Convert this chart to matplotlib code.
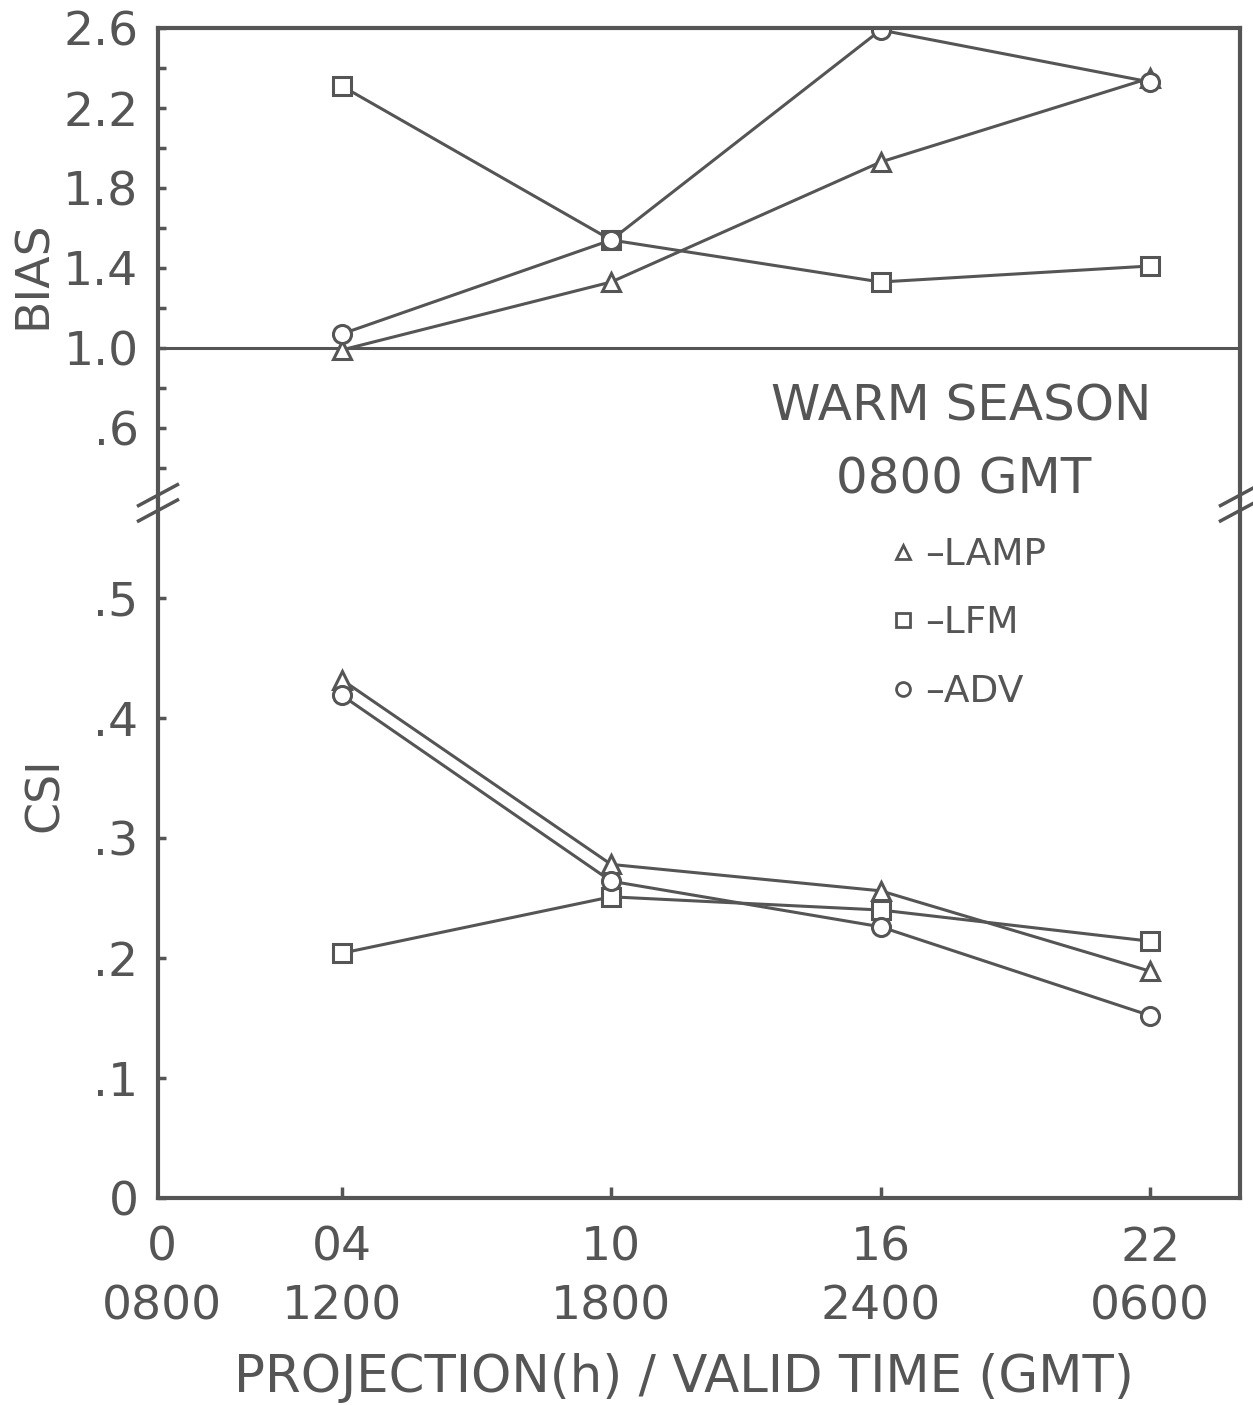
import matplotlib
matplotlib.use("Agg")
import matplotlib.pyplot as plt
from matplotlib.lines import Line2D

# projection hours and their valid times
hours = [4, 10, 16, 22]
xtick_pos = [0, 4, 10, 16, 22]
xtick_labels = ["0\n0800", "04\n1200", "10\n1800", "16\n2400", "22\n0600"]

# bias scores
bias_lamp = [0.99, 1.33, 1.93, 2.35]
bias_lfm = [2.31, 1.54, 1.33, 1.41]
bias_adv = [1.07, 1.54, 2.59, 2.33]

# critical success index
csi_lamp = [0.432, 0.278, 0.256, 0.189]
csi_lfm = [0.204, 0.251, 0.240, 0.214]
csi_adv = [0.419, 0.264, 0.226, 0.152]

grey = "#555555"
plt.rcParams["font.family"] = ["DejaVu Sans"]
plt.rcParams["text.color"] = grey

fig = plt.figure(figsize=(12.53, 14.05), dpi=100)
fig.patch.set_facecolor("white")

left, width = 0.1261, 0.8635
ax_b = fig.add_axes([left, 0.14733, width, 0.49680])
ax_t = fig.add_axes([left, 0.64413, width, 0.33594])

styles = [("^", "LAMP"), ("s", "LFM"), ("o", "ADV")]

for ax in (ax_t, ax_b):
    ax.set_xlim(-0.09, 24.0)
    ax.set_facecolor("none")
    for s in ax.spines.values():
        s.set_linewidth(3)
        s.set_color(grey)
    ax.tick_params(direction="in", colors=grey, width=2.5, length=6,
                   labelsize=34, pad=14)
    ax.tick_params(which="minor", direction="in", colors=grey, width=2.5, length=6)

ax_t.spines["bottom"].set_visible(False)
ax_b.spines["top"].set_visible(False)

# top panel: bias
ax_t.set_ylim(0.24, 2.6)
ax_t.axhline(1.0, color=grey, lw=2.2)
for (mk, name), vals in zip(styles, [bias_lamp, bias_lfm, bias_adv]):
    ax_t.plot(hours, vals, color=grey, lw=2.2, marker=mk, ms=13,
              mfc="white", mec=grey, mew=2.2)
ax_t.set_yticks([0.6, 1.0, 1.4, 1.8, 2.2, 2.6])
ax_t.set_yticklabels([".6", "1.0", "1.4", "1.8", "2.2", "2.6"])
ax_t.set_yticks([0.4, 0.8, 1.2, 1.6, 2.0, 2.4], minor=True)
ax_t.set_xticks([])

# bottom panel: csi
ax_b.set_ylim(0, 0.5817)
for (mk, name), vals in zip(styles, [csi_lamp, csi_lfm, csi_adv]):
    ax_b.plot(hours, vals, color=grey, lw=2.2, marker=mk, ms=13,
              mfc="white", mec=grey, mew=2.2)
ax_b.set_yticks([0, 0.1, 0.2, 0.3, 0.4, 0.5])
ax_b.set_yticklabels(["0", ".1", ".2", ".3", ".4", ".5"])
ax_b.set_xticks(xtick_pos)
ax_b.set_xticklabels(xtick_labels, linespacing=1.4)
ax_b.tick_params(axis="x", length=8, pad=20)
ax_b.xaxis.get_major_ticks()[0].tick1line.set_visible(False)

# axis break marks on both sides
for xb in (0.0, 1.0):
    for dy in (0.0, 0.022):
        ax_b.plot([xb - 0.018, xb + 0.018], [1.0 - 0.03 + dy, 1.0 + dy],
                  transform=ax_b.transAxes, color=grey, lw=2.5, clip_on=False)

fig.text(0.0263, 0.8043, "BIAS", rotation=90, ha="center", va="center", fontsize=34)
fig.text(0.0359, 0.4342, "CSI", rotation=90, ha="center", va="center", fontsize=33)
fig.text(0.546, 0.0192, "PROJECTION(h) / VALID TIME (GMT)", ha="center",
         va="center", fontsize=37)

fig.text(0.767, 0.711, "WARM SEASON", ha="center", va="center", fontsize=36)
fig.text(0.769, 0.659, "0800 GMT", ha="center", va="center", fontsize=36)

handles = [Line2D([], [], ls="none", marker=mk, ms=10, mfc="white", mec=grey, mew=2)
           for mk, _ in styles]
ax_b.legend(handles, ["\u2013" + name for _, name in styles], loc="upper left",
            bbox_to_anchor=(0.647, 0.995), frameon=False, fontsize=27,
            handlelength=0.6, handletextpad=0.3, labelspacing=0.86,
            labelcolor=grey)

fig.savefig("out.png", dpi=100, facecolor="white")
